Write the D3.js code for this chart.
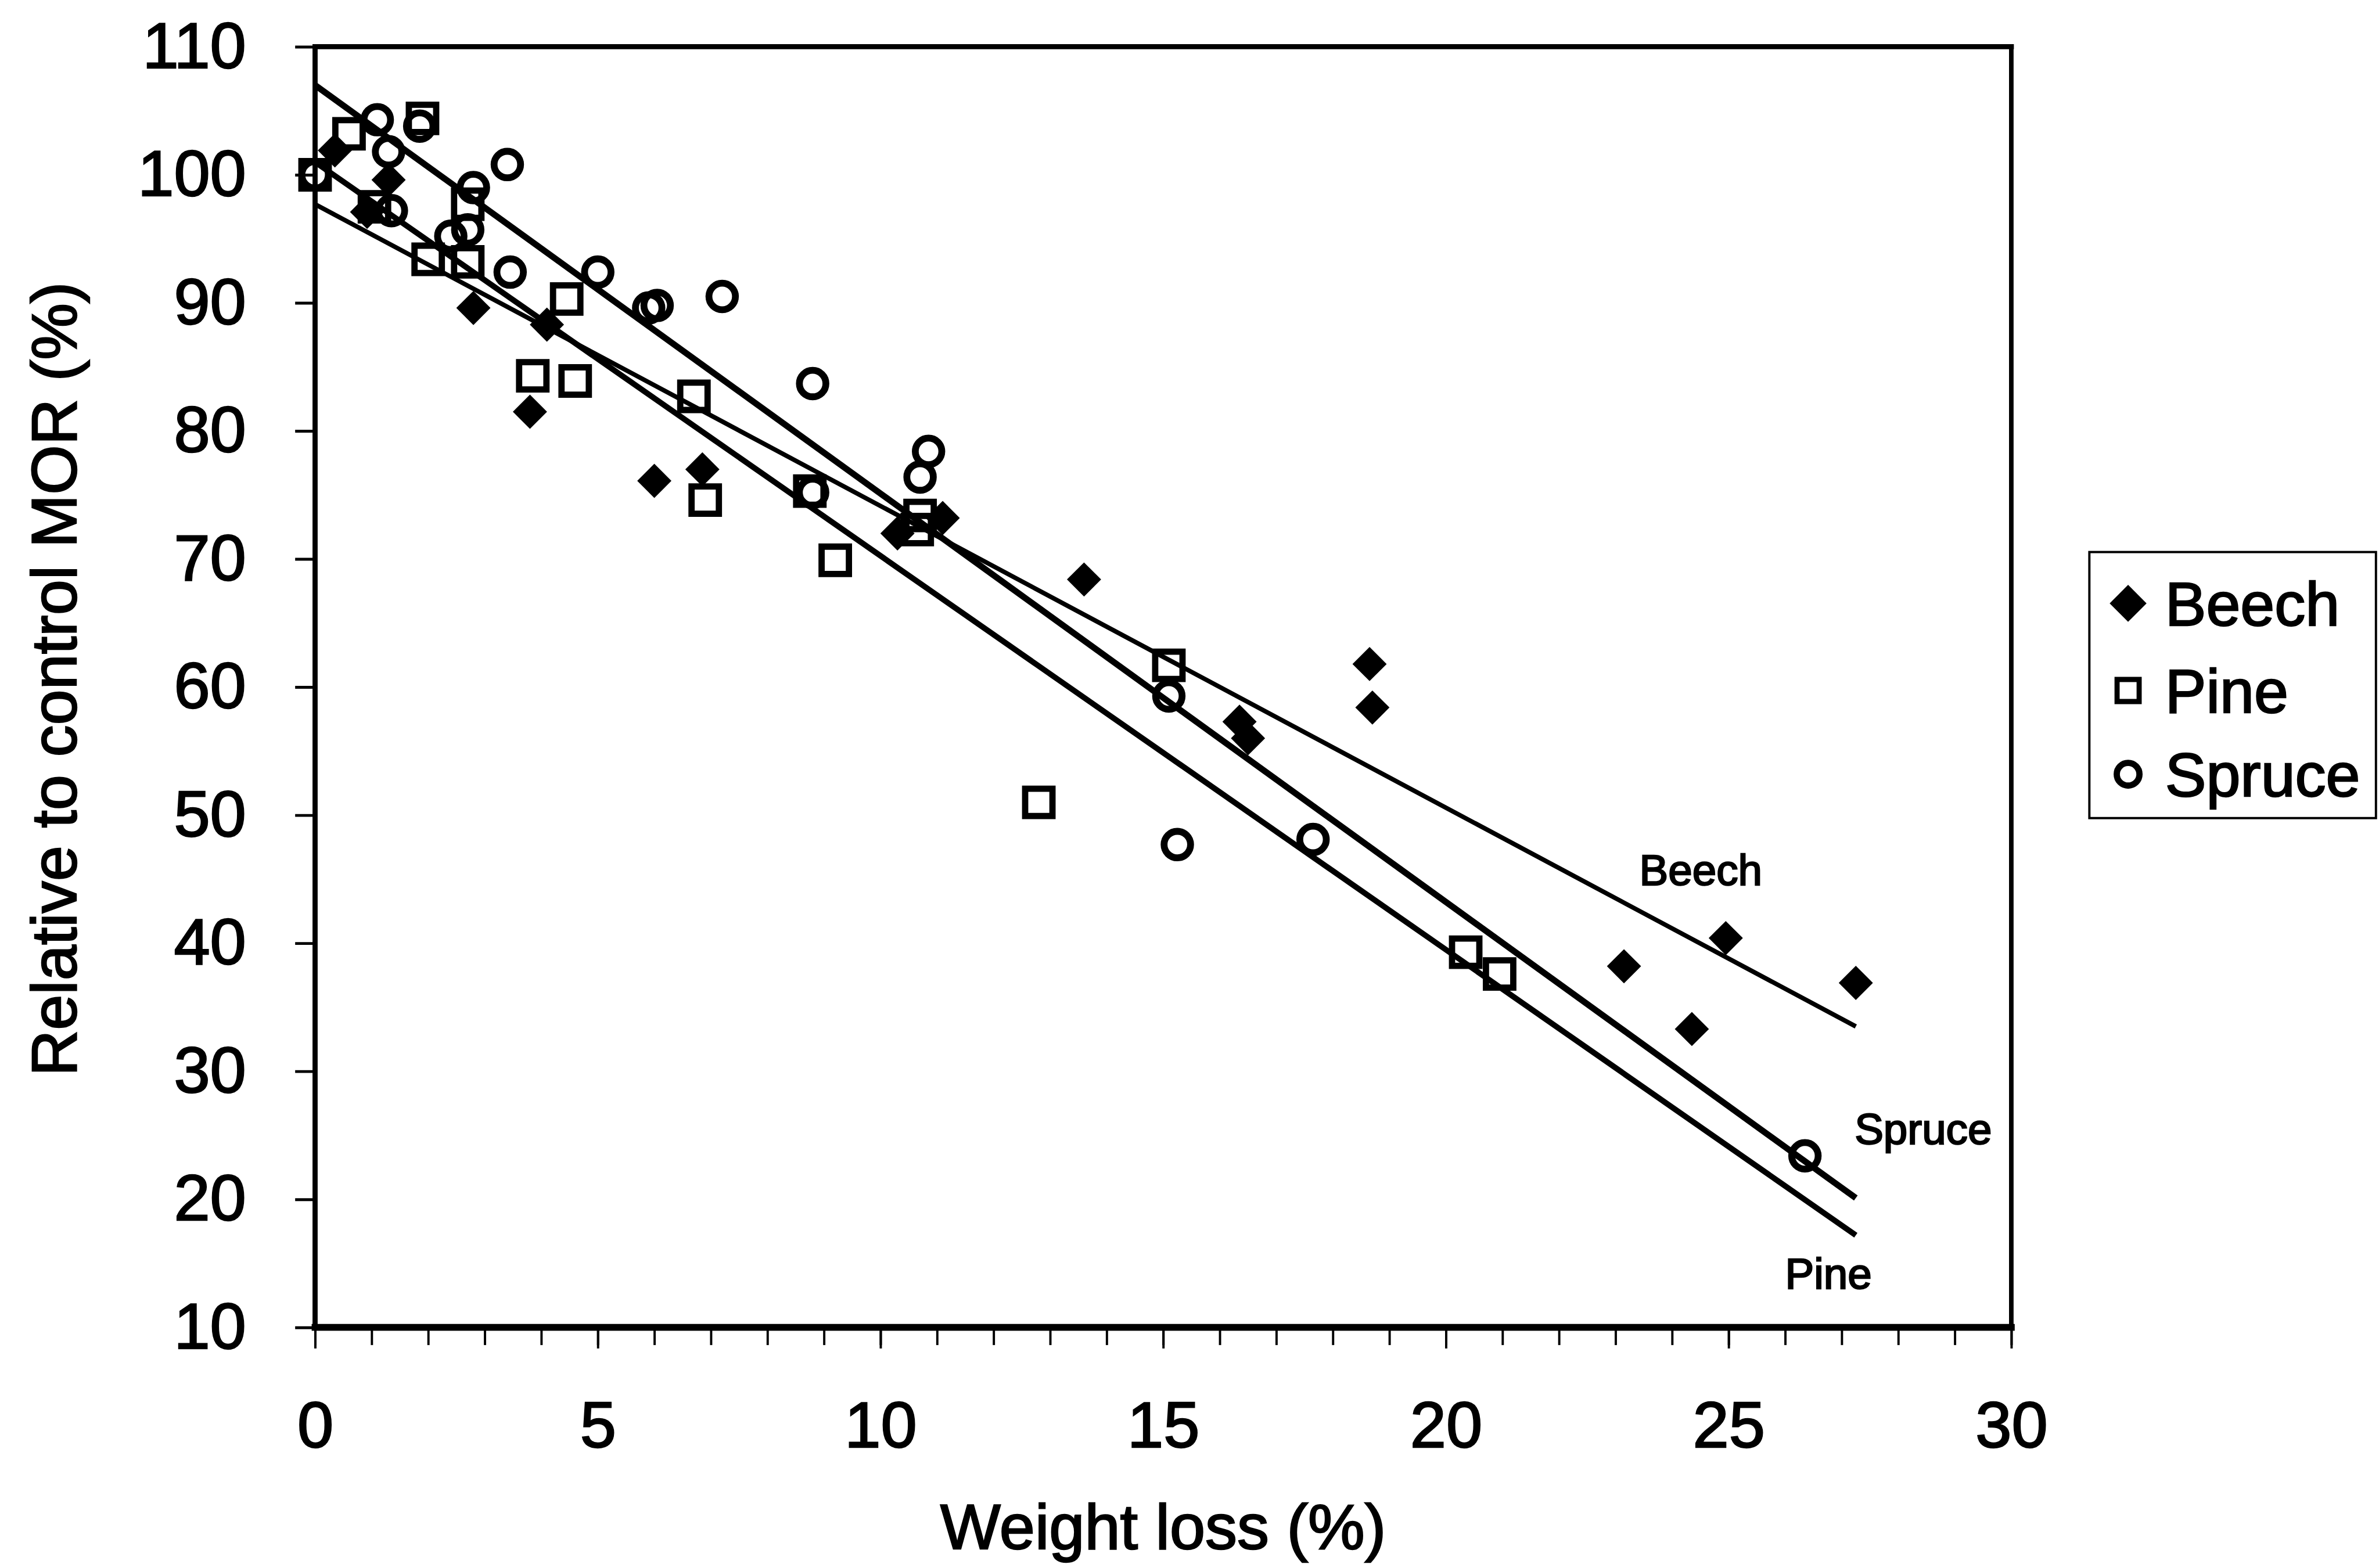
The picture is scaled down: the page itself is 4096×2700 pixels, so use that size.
<!DOCTYPE html>
<html>
<head>
<meta charset="utf-8">
<script src="https://cdn.jsdelivr.net/npm/d3@7"></script>
<style>
  body { margin: 0; background: #fff; }
  svg { display: block; }
  text { font-family: "Liberation Sans", Arial, Helvetica, sans-serif; fill: #000; stroke: #000; stroke-width: 2.5px; }
</style>
</head>
<body>
<svg id="chart" width="4096" height="2700"></svg>
<script>
// Weight loss (%) and MOR relative to control (%) for each wood species
const species = ["Beech", "Pine", "Spruce"];

const beechLoss = [0.35, 0.92, 1.3, 2.8, 4.1, 3.8, 6.0, 6.85, 10.3, 11.1, 13.6, 16.35, 16.5, 18.65, 18.7, 23.15, 24.95, 24.35, 27.25];
const beechMOR  = [101.9, 97.1, 99.6, 89.6, 88.3, 81.5, 76.1, 77.0, 72.0, 73.2, 68.4, 57.3, 56.0, 61.8, 58.4, 38.2, 40.4, 33.3, 36.9];

const pineLoss = [0, 0.6, 1.9, 1.05, 2.7, 2.0, 2.7, 4.45, 3.85, 4.6, 6.7, 6.9, 8.75, 9.2, 10.7, 10.65, 12.8, 15.1, 20.35, 20.95];
const pineMOR  = [100, 103.2, 104.4, 97.5, 97.7, 93.4, 93.2, 90.3, 84.3, 83.9, 82.7, 74.6, 75.3, 69.9, 73.4, 72.3, 51.0, 61.7, 39.3, 37.6];

const spruceLoss = [0, 1.1, 1.3, 1.85, 1.35, 2.8, 3.4, 2.7, 2.4, 3.45, 5.0, 5.9, 6.05, 7.2, 8.8, 8.8, 10.85, 10.7, 15.1, 15.25, 17.65, 26.35];
const spruceMOR  = [100, 104.3, 101.8, 103.8, 97.2, 99.0, 100.8, 95.7, 95.2, 92.4, 92.4, 89.6, 89.8, 90.5, 83.7, 75.2, 78.4, 76.4, 59.3, 47.7, 48.1, 23.4];

// Linear trend lines: MOR at 0 % and at the largest weight loss
const fitStartLoss = 0;
const fitEndLoss = 27.25;
const fitStart = [97.7, 101.0, 107.0];
const fitEnd   = [33.5, 17.2, 20.1];

// Axis ticks
const xMajorTicks = [0, 5, 10, 15, 20, 25, 30];
const xMinorTicks = d3.range(0, 31, 1);
const yTicks = [10, 20, 30, 40, 50, 60, 70, 80, 90, 100, 110];

const xTitle = "Weight loss (%)";
const yTitle = "Relative to control MOR (%)";

// ---- layout (drawn at full size, then scaled into the window) ----
const S = 0.981;
const plot = { left: 553, right: 3530, top: 82, bottom: 2330 };

const svg = d3.select("#chart");
const root = svg.append("g").attr("transform", `scale(${S})`);

const x = d3.scaleLinear().domain([0, 30]).range([plot.left, plot.right]);
const y = d3.scaleLinear().domain([10, 110]).range([plot.bottom, plot.top]);

// x axis: minor ticks every 1 %, labelled ticks every 5 %
root.append("g")
  .attr("transform", `translate(0,${plot.bottom})`)
  .call(d3.axisBottom(x).tickValues(xMinorTicks).tickSize(31).tickFormat(""))
  .call(g => g.select(".domain").remove())
  .call(g => g.selectAll("line").attr("stroke", "#000").attr("stroke-width", 4));

root.append("g")
  .attr("transform", `translate(0,${plot.bottom})`)
  .call(d3.axisBottom(x).tickValues(xMajorTicks).tickSize(37).tickPadding(92).tickFormat(d3.format("d")))
  .call(g => g.select(".domain").remove())
  .call(g => g.selectAll("line").attr("stroke", "#000").attr("stroke-width", 4))
  .call(g => g.selectAll("text").attr("font-size", 114).attr("fill", "#000"));

// y axis
root.append("g")
  .attr("transform", `translate(${plot.left},0)`)
  .call(d3.axisLeft(y).tickValues(yTicks).tickSize(35).tickPadding(86).tickFormat(d3.format("d")))
  .call(g => g.select(".domain").remove())
  .call(g => g.selectAll("line").attr("stroke", "#000").attr("stroke-width", 5))
  .call(g => g.selectAll("text").attr("font-size", 114).attr("fill", "#000"));

// plot frame
const frame = root.append("g").attr("stroke", "#000").attr("stroke-linecap", "square");
frame.append("line").attr("x1", plot.left).attr("x2", plot.right).attr("y1", plot.top).attr("y2", plot.top).attr("stroke-width", 9);
frame.append("line").attr("x1", plot.right).attr("x2", plot.right).attr("y1", plot.top).attr("y2", plot.bottom).attr("stroke-width", 8);
frame.append("line").attr("x1", plot.left).attr("x2", plot.left).attr("y1", plot.top).attr("y2", plot.bottom).attr("stroke-width", 9);
frame.append("line").attr("x1", plot.left).attr("x2", plot.right).attr("y1", plot.bottom).attr("y2", plot.bottom).attr("stroke-width", 12);

// markers
const diamondPath = d3.symbol().type(d3.symbolSquare).size(1800)();
const squarePath = d3.symbol().type(d3.symbolSquare).size(2300)();
const circlePath = d3.symbol().type(d3.symbolCircle).size(1700)();

const markerStyle = {
  Beech:  sel => sel.attr("d", diamondPath).attr("fill", "#000").attr("stroke", "none"),
  Pine:   sel => sel.attr("d", squarePath).attr("fill", "none").attr("stroke", "#000").attr("stroke-width", 11),
  Spruce: sel => sel.attr("d", circlePath).attr("fill", "none").attr("stroke", "#000").attr("stroke-width", 12)
};
const markerRotate = { Beech: 45, Pine: 0, Spruce: 0 };

const seriesData = [
  { name: "Beech",  pts: beechLoss.map((v, i) => [v, beechMOR[i]]) },
  { name: "Pine",   pts: pineLoss.map((v, i) => [v, pineMOR[i]]) },
  { name: "Spruce", pts: spruceLoss.map((v, i) => [v, spruceMOR[i]]) }
];

seriesData.forEach(s => {
  root.append("g")
    .selectAll("path")
    .data(s.pts)
    .join("path")
    .attr("transform", d => `translate(${x(d[0])},${y(d[1])}) rotate(${markerRotate[s.name]})`)
    .call(markerStyle[s.name]);
});

// trend lines
const lineGen = d3.line().x(d => x(d[0])).y(d => y(d[1]));
const lineWidths = [8, 10, 11];
species.forEach((name, i) => {
  root.append("path")
    .datum([[fitStartLoss, fitStart[i]], [fitEndLoss, fitEnd[i]]])
    .attr("d", lineGen)
    .attr("fill", "none")
    .attr("stroke", "#000")
    .attr("stroke-width", lineWidths[i]);
});

// line labels
root.append("text").attr("x", 2985).attr("y", 1554).attr("text-anchor", "middle").attr("font-size", 76).text("Beech");
root.append("text").attr("x", 3255).attr("y", 2008).attr("font-size", 76).text("Spruce");
root.append("text").attr("x", 3133).attr("y", 2262).attr("font-size", 76).text("Pine");

// axis titles
root.append("text")
  .attr("x", (plot.left + plot.right) / 2).attr("y", 2719)
  .attr("text-anchor", "middle").attr("font-size", 112)
  .text(xTitle);
root.append("text")
  .attr("transform", `translate(134,${1192}) rotate(-90)`)
  .attr("text-anchor", "middle").attr("font-size", 112)
  .text(yTitle);

// legend
const legend = root.append("g");
legend.append("rect")
  .attr("x", 3667).attr("y", 969).attr("width", 503).attr("height", 467)
  .attr("fill", "#fff").attr("stroke", "#000").attr("stroke-width", 4);
const legendRows = [1059, 1212, 1359];
const legendMarkerPath = {
  Beech: d3.symbol().type(d3.symbolSquare).size(2100)(),
  Pine: d3.symbol().type(d3.symbolSquare).size(1500)(),
  Spruce: d3.symbol().type(d3.symbolCircle).size(1250)()
};
species.forEach((name, i) => {
  const m = legend.append("path")
    .attr("transform", `translate(3735,${legendRows[i]}) rotate(${markerRotate[name]})`)
    .attr("d", legendMarkerPath[name]);
  if (name === "Beech") m.attr("fill", "#000");
  else m.attr("fill", "none").attr("stroke", "#000").attr("stroke-width", name === "Pine" ? 9 : 11);
  legend.append("text")
    .attr("x", 3800).attr("y", legendRows[i] + 39)
    .attr("font-size", 108)
    .text(name);
});
</script>
</body>
</html>
